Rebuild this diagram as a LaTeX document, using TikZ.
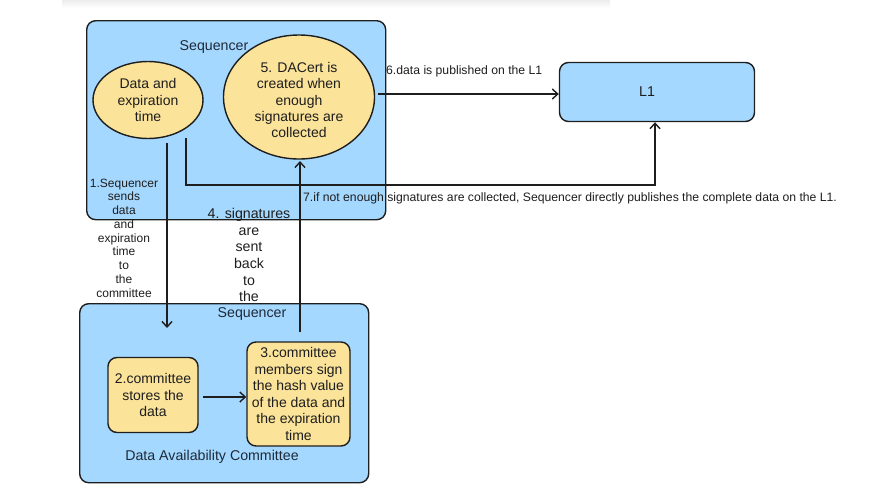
\documentclass[tikz,border=0pt]{standalone}
\usepackage{fontspec}
\setmainfont{Liberation Sans}
\usetikzlibrary{arrows.meta,shapes.geometric}
\definecolor{bluef}{HTML}{A5D8FF}
\definecolor{yellf}{HTML}{FBE39A}
\definecolor{ink}{HTML}{1E1E1E}
\definecolor{labelc}{HTML}{1E2A3A}
\tikzset{
  every node/.style={font=\fontsize{12.2}{13.7}\selectfont, text=ink},
  group/.style={draw=ink, line width=1.4pt, fill=bluef, rounded corners=9pt, anchor=north west, inner sep=0pt},
  yell/.style={draw=ink, line width=1.4pt, fill=yellf, rounded corners=9pt, align=center, inner sep=0pt, font=\fontsize{14}{16.6}\selectfont},
  oval/.style={draw=ink, line width=1.4pt, fill=yellf, ellipse, inner sep=0pt},
  ovaltxt/.style={align=center, inner sep=0pt, font=\fontsize{14}{16.4}\selectfont},
  conn/.style={draw=ink, line width=1.4pt, -{Straight Barb[length=5.5pt,width=10pt,line width=1.4pt]}},
  lbl/.style={align=center, inner sep=0pt},
  big/.style={font=\fontsize{14.2}{16.7}\selectfont},
}
\begin{document}
\begin{tikzpicture}[x=1pt,y=-1pt]
\useasboundingbox (0,0) rectangle (875,488);
% faint top shadow
\shade[top color=black!8, bottom color=white] (62,-1) rectangle (610,8);
% groups
\node[group, minimum width=299pt, minimum height=199pt] (seq) at (86,20) {};
\node[group, minimum width=289pt, minimum height=179pt] (dac) at (79,303) {};
\node[group, minimum width=195pt, minimum height=59pt, anchor=center] (l1) at (657,92) {};
\node[big] (l1txt) at (647,92) {L1};
\node[big, text=labelc] (seqlbl) at (214,47) {Sequencer};
\node[big, text=labelc] (dacseq) at (252,314) {Sequencer};
\node[big, text=labelc] (daclbl) at (212,457) {Data Availability Committee};
% ellipses
\node[oval, minimum width=110pt, minimum height=77pt] (data) at (148,100) {};
\node[ovaltxt] (datatxt) at (148,100) {Data and\\expiration\\time};
\node[oval, minimum width=151pt, minimum height=124pt] (cert) at (299,97) {};
\node[ovaltxt] (certtxt) at (299,100) {5. DACert is\\created when\\enough\\signatures are\\collected};
% boxes
\node[yell, minimum width=90pt, minimum height=75pt] (store) at (153,395) {2.committee\\stores the\\data};
\node[yell, minimum width=103pt, minimum height=104pt] (sign) at (298.5,394) {3.committee\\members sign\\the hash value\\of the data and\\the expiration\\time};
% connectors
\coordinate (c1s) at (167,143);
\coordinate (c1e) at (167,328);
\draw[conn] (c1s) -- (c1e);
\coordinate (c4s) at (300,332);
\coordinate (c4e) at (300,161);
\draw[conn] (c4s) -- (c4e);
\coordinate (c6s) at (378,94);
\draw[conn] (c6s) -- (l1.west |- c6s);
\coordinate (c7s) at (186,138);
\coordinate (c7a) at (186,185);
\coordinate (c7b) at (655,185);
\draw[conn] (c7s) -- (c7a) -- (c7b) -- (l1.south -| c7b);
\coordinate (c2s) at (203,397);
\draw[conn] (c2s) -- (sign.west |- c2s);
% labels
\node[lbl, font=\fontsize{12}{13.75}\selectfont] (lab1) at (124,238) {1.Sequencer\\sends\\data\\and\\expiration\\time\\to\\the\\committee};
\node[lbl, big] (lab4) at (249,255) {4. signatures\\are\\sent\\back\\to\\the};
\node[lbl, anchor=west] (lab6) at (386,71) {6.data is published on the L1};
\node[lbl, anchor=west] (lab7) at (303,198) {7.if not enough signatures are collected, Sequencer directly publishes the complete data on the L1.};
\end{tikzpicture}
\end{document}
